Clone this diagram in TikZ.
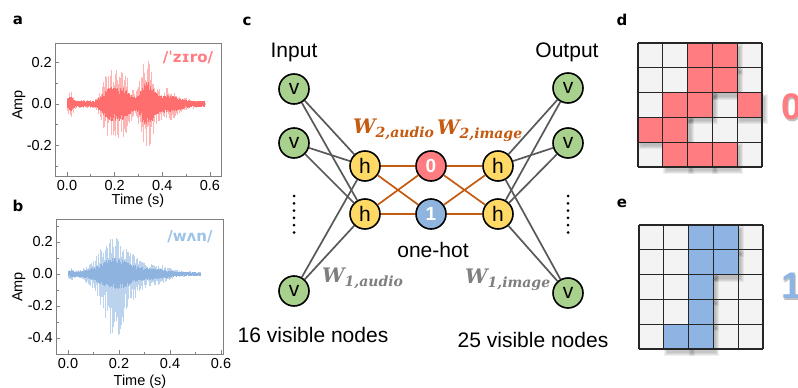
\documentclass[tikz,border=0pt]{standalone}
\usepackage{fontspec}
\setmainfont{Liberation Sans}
\newfontfamily\ipafont{DejaVu Sans}
\newfontfamily\wfont{DejaVu Serif}
\newfontfamily\panelfont{DejaVu Sans}
\definecolor{wredL}{HTML}{FFB4B4}
\definecolor{wredD}{HTML}{FF6E6E}
\definecolor{wblueL}{HTML}{BCD3EE}
\definecolor{wblueD}{HTML}{8DB3DE}
\definecolor{ipared}{HTML}{FF7C80}
\definecolor{ipablue}{HTML}{9DC3E6}
\definecolor{gnode}{HTML}{A9D18E}
\definecolor{ynode}{HTML}{FFD966}
\definecolor{rnode}{HTML}{FF7C80}
\definecolor{bnode}{HTML}{8FB4DE}
\definecolor{orline}{HTML}{C55A11}
\definecolor{grline}{HTML}{595959}
\definecolor{wgray}{HTML}{7F7F7F}
\definecolor{axgray}{HTML}{808080}
\definecolor{gridred}{HTML}{FF7C80}
\definecolor{gridblue}{HTML}{8EB4E3}
\definecolor{cellbg}{HTML}{F3F3F3}
\newcommand\pixgrid[4]{%
  \foreach \r in {1,...,5}{\foreach \c in {1,...,5}{
    \fill[cellbg] ({#1+(\c-1)*24.8},{#2+(\r-1)*24.8}) rectangle ++(24.8,24.8);}}
  \foreach \r/\c in {#4}{\foreach \k in {0,1,2,3}{
    \fill[black,opacity=0.06] ({#1+(\c-1)*24.8+3-\k},{#2+(\r-1)*24.8+4-\k}) rectangle ({#1+\c*24.8+3+\k},{#2+\r*24.8+4+\k});}}
  \foreach \r/\c in {#4}{
    \fill[#3] ({#1+(\c-1)*24.8},{#2+(\r-1)*24.8}) rectangle ++(24.8,24.8);}
  \foreach \k in {0,...,5}{
    \draw[line width=1.1pt,black!85] ({#1+\k*24.8},#2) -- ++(0,124);
    \draw[line width=1.1pt,black!85] (#1,{#2+\k*24.8}) -- ++(124,0);}
}
\begin{document}
\begin{tikzpicture}[x=1pt,y=-1pt,
  declare function={gau(\x,\c,\w)=exp(-min(((\x-\c)/\w)*((\x-\c)/\w),9));
                    gfour(\x,\c,\w)=exp(-min(((\x-\c)/\w)*((\x-\c)/\w)*((\x-\c)/\w)*((\x-\c)/\w),9));},
  panellab/.style={font=\panelfont\bfseries\fontsize{15}{15}\selectfont, inner sep=0},
  ticklab/.style={font=\fontsize{14.5}{15}\selectfont, inner sep=0},
  axbox/.style={draw=axgray, line width=0.9pt},
  tickline/.style={draw=axgray, line width=0.8pt},
  vnode/.style={circle, draw=black, line width=1.6pt, fill=gnode, minimum size=30pt, inner sep=0, font=\fontsize{21}{21}\selectfont},
  hnode/.style={vnode, fill=ynode},
  onode/.style={vnode, fill=rnode, text=white, font=\bfseries\fontsize{19}{19}\selectfont},
  inode/.style={vnode, fill=bnode, text=white, font=\bfseries\fontsize{19}{19}\selectfont},
  gline/.style={draw=grline, line width=1.7pt},
  oline/.style={draw=orline, line width=1.7pt},
  bigtext/.style={font=\fontsize{21}{21}\selectfont, inner sep=0},
  wlab/.style={font=\wfont\bfseries\itshape\fontsize{20}{20}\selectfont, inner sep=0, anchor=base west},
]
\useasboundingbox (0,0) rectangle (798,388);
\fill[white] (0,0) rectangle (798,388);

% ---------------- panel a ----------------
\node[panellab] (la) at (18,20) {a};
\pgfmathsetseed{12}
\foreach \i in {0,...,193}{
  \pgfmathsetmacro\t{\i*0.003}
  \pgfmathsetmacro\E{0.02+0.05*gau(\t,0.015,0.012)+0.15*gfour(\t,0.205,0.065)+0.2*gau(\t,0.335,0.035)+0.06*gau(\t,0.42,0.06)-0.02*gau(\t,0.6,0.03)}
  \pgfmathsetmacro\X{67+238.3*\t}
  \pgfmathsetmacro\Ya{104-206.7*\E*(0.3+0.7*rnd)}
  \pgfmathsetmacro\Yb{104+206.7*\E*(0.3+0.7*rnd)}
  \draw[wredL, line width=0.45pt] (\X,\Ya) -- (\X,\Yb);
}
\foreach \i in {0,...,386}{
  \pgfmathsetmacro\t{\i*0.0015}
  \pgfmathsetmacro\E{0.02+0.05*gau(\t,0.015,0.012)+0.15*gfour(\t,0.205,0.065)+0.2*gau(\t,0.335,0.035)+0.06*gau(\t,0.42,0.06)}
  \pgfmathsetmacro\C{0.45*\E+0.006}
  \pgfmathsetmacro\X{67+238.3*\t}
  \pgfmathsetmacro\Ya{104-206.7*\C*(0.5+0.5*rnd)}
  \pgfmathsetmacro\Yb{104+206.7*\C*(0.5+0.5*rnd)}
  \draw[wredD, line width=0.45pt] (\X,\Ya) -- (\X,\Yb);
}
\draw[axbox] (55,43) rectangle (221,176);
\foreach \v/\lab in {0/0.0,0.2/0.2,0.4/0.4,0.6/0.6}{
  \draw[tickline] ({67+238.3*\v},176) -- ++(0,-4);
  \node[ticklab] at ({67+238.3*\v},186) {\lab};}
\foreach \v in {0.1,0.3,0.5}{\draw[tickline] ({67+238.3*\v},176) -- ++(0,-2.5);}
\foreach \v/\lab in {0.2/0.2,0/0.0,-0.2/-0.2}{
  \draw[tickline] (55,{104-206.7*\v}) -- ++(4,0);
  \node[ticklab, anchor=east] at (52,{104-206.7*\v}) {\lab};}
\foreach \v in {0.1,-0.1,-0.3}{\draw[tickline] (55,{104-206.7*\v}) -- ++(2.5,0);}
\node[ticklab, rotate=90] (ampa) at (19,105) {Amp};
\node[ticklab] (timea) at (138,201) {Time (s)};
\node[font=\ipafont\bfseries\fontsize{15}{15}\selectfont, text=ipared, inner sep=0] (ipa0) at (188,58) {/ˈzɪro/};

% ---------------- panel b ----------------
\node[panellab] (lb) at (18,206) {b};
\pgfmathsetseed{5}
\foreach \i in {0,...,207}{
  \pgfmathsetmacro\t{\i*0.0025}
  \pgfmathsetmacro\Et{0.015+0.03*gau(\t,0.012,0.01)+0.22*gau(\t,0.185,0.085)+0.05*gau(\t,0.34,0.07)}
  \pgfmathsetmacro\Eb{\Et*(1+0.75*gau(\t,0.185,0.07))}
  \pgfmathsetmacro\X{68+255*\t}
  \pgfmathsetmacro\Ya{274-160*\Et*(0.3+0.7*rnd)}
  \pgfmathsetmacro\Yb{274+160*\Eb*(0.3+0.7*rnd)}
  \draw[wblueL, line width=0.6pt] (\X,\Ya) -- (\X,\Yb);
}
\foreach \i in {0,...,346}{
  \pgfmathsetmacro\t{\i*0.0015}
  \pgfmathsetmacro\Et{0.015+0.03*gau(\t,0.012,0.01)+0.22*gau(\t,0.185,0.085)+0.05*gau(\t,0.34,0.07)}
  \pgfmathsetmacro\C{0.4*\Et+0.006}
  \pgfmathsetmacro\X{68+255*\t}
  \pgfmathsetmacro\Ya{274-160*\C*(0.5+0.5*rnd)}
  \pgfmathsetmacro\Yb{274+160*\C*(0.5+0.5*rnd)}
  \draw[wblueD, line width=0.45pt] (\X,\Ya) -- (\X,\Yb);
}
\draw[axbox] (56,219) rectangle (223,354);
\foreach \v/\lab in {0/0.0,0.2/0.2,0.4/0.4,0.6/0.6}{
  \draw[tickline] ({68+255*\v},354) -- ++(0,-4);
  \node[ticklab] at ({68+255*\v},364) {\lab};}
\foreach \v in {0.1,0.3,0.5}{\draw[tickline] ({68+255*\v},354) -- ++(0,-2.5);}
\foreach \v/\lab in {0.2/0.2,0/0.0,-0.2/-0.2,-0.4/-0.4}{
  \draw[tickline] (56,{274-160*\v}) -- ++(4,0);
  \node[ticklab, anchor=east] at (53,{274-160*\v}) {\lab};}
\foreach \v in {0.3,0.1,-0.1,-0.3}{\draw[tickline] (56,{274-160*\v}) -- ++(2.5,0);}
\node[ticklab, rotate=90] (ampb) at (19,287) {Amp};
\node[ticklab] (timeb) at (140,382) {Time (s)};
\node[font=\ipafont\bfseries\fontsize{15}{15}\selectfont, text=ipablue, inner sep=0] (ipa1) at (190,237) {/wʌn/};

% ---------------- panel c ----------------
\node[panellab] (lc) at (247,21) {c};
\node[bigtext] (inp) at (294,52) {Input};
\node[bigtext] (outp) at (567,52) {Output};
\node[vnode] (vL1) at (294,89) {v};
\node[vnode] (vL2) at (294,143) {v};
\node[vnode] (vL3) at (294,291) {v};
\node[hnode] (hL1) at (365,166) {h};
\node[hnode] (hL2) at (365,214) {h};
\node[onode] (n0) at (431,166) {0};
\node[inode] (n1) at (431,214) {1};
\node[hnode] (hR1) at (498,166) {h};
\node[hnode] (hR2) at (498,214) {h};
\node[vnode] (vR1) at (568,88) {v};
\node[vnode] (vR2) at (568,143) {v};
\node[vnode] (vR3) at (568,293) {v};
\foreach \a in {vL1,vL2,vL3}{\foreach \b in {hL1,hL2}{\draw[gline] (\a) -- (\b);}}
\foreach \a in {vR1,vR2,vR3}{\foreach \b in {hR1,hR2}{\draw[gline] (\a) -- (\b);}}
\foreach \a in {hL1,hL2}{\foreach \b in {n0,n1}{\draw[oline] (\a) -- (\b);}}
\foreach \a in {hR1,hR2}{\foreach \b in {n0,n1}{\draw[oline] (\a) -- (\b);}}
\foreach \k in {0,...,5}{
  \fill (294,{196+\k*7.3}) circle (1.5);
  \fill (568,{196+\k*7.3}) circle (1.5);}
\node[wlab, text=orline] (w2a) at (353,133) {W\raisebox{-4pt}{\fontsize{14}{14}\selectfont 2,audio}};
\node[wlab, text=orline] (w2i) at (437,134) {W\raisebox{-4pt}{\fontsize{14}{14}\selectfont 2,image}};
\node[wlab, text=wgray] (w1a) at (322,282) {W\raisebox{-4pt}{\fontsize{14}{14}\selectfont 1,audio}};
\node[wlab, text=wgray] (w1i) at (465,283) {W\raisebox{-4pt}{\fontsize{14}{14}\selectfont 1,image}};
\node[bigtext] (oh) at (433,250) {one-hot};
\node[bigtext] (vis16) at (313,335) {16 visible nodes};
\node[bigtext] (vis25) at (533,340) {25 visible nodes};

% ---------------- panel d ----------------
\node[panellab] (ld) at (622,20) {d};
\pixgrid{638}{43}{gridred}{1/3,1/4,2/3,2/4,3/2,3/3,3/5,4/1,4/2,5/2,5/3,5/4}
\node[anchor=west, inner sep=0, text=black, opacity=0.25, font=\bfseries\fontsize{37}{37}\selectfont] (zsh) at (782.5,108.5) {0};
\node[anchor=west, inner sep=0, text=gridred, font=\bfseries\fontsize{37}{37}\selectfont] (zero) at (781,107) {0};

% ---------------- panel e ----------------
\node[panellab] (le) at (622,203) {e};
\pixgrid{639}{225}{gridblue}{1/3,1/4,2/3,2/4,3/3,4/3,5/2,5/3}
\node[anchor=west, inner sep=0, text=black, opacity=0.25, font=\bfseries\fontsize{37}{37}\selectfont] (osh) at (782.5,287.5) {1};
\node[anchor=west, inner sep=0, text=gridblue, font=\bfseries\fontsize{37}{37}\selectfont] (one) at (781,286) {1};
\end{tikzpicture}
\end{document}
